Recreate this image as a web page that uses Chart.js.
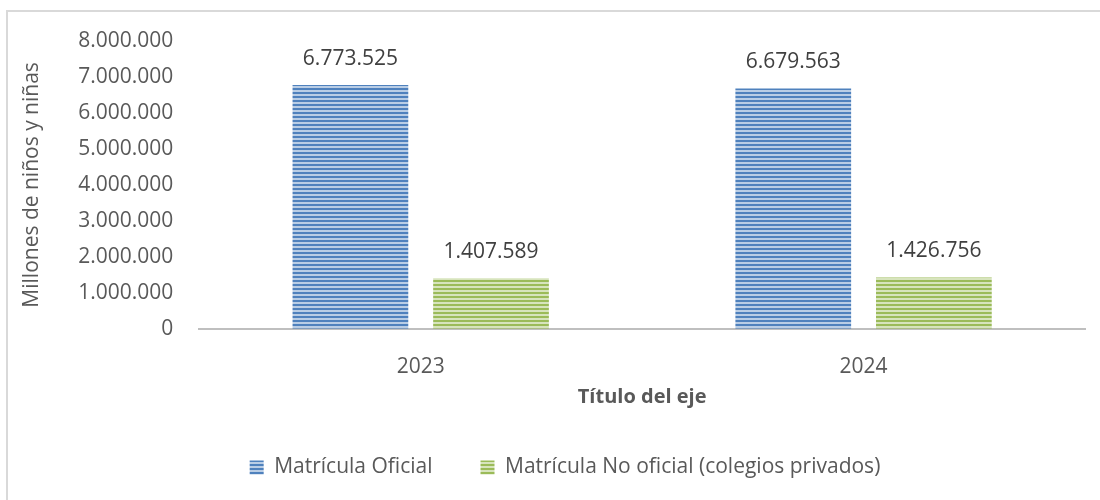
<!DOCTYPE html>
<html>
<head>
<meta charset="utf-8">
<script src="https://cdn.jsdelivr.net/npm/chart.js@4"></script>
<style>
  html, body { margin: 0; padding: 0; background: #fff; }
  #wrap { position: relative; width: 1100px; height: 500px; overflow: hidden; }
  #frame { position: absolute; left: 6px; top: 10px; width: 1200px; height: 600px;
           border-left: 2px solid #D9D9D9; border-top: 2px solid #D9D9D9; }
  #chart-container { position: absolute; left: 0; top: 0; width: 1100px; height: 500px; }
</style>
</head>
<body>
<div id="wrap">
  <div id="frame"></div>
  <div id="chart-container"><canvas id="myChart"></canvas></div>
</div>
<script>
const years = ['2023', '2024']
const oficial = [6773525, 6679563]
const noOficial = [1407589, 1426756]
const seriesNames = ['Matrícula Oficial', 'Matrícula No oficial (colegios privados)']

const font = '"Open Sans", "Liberation Sans", sans-serif'
const textColor = '#595959'

const formatDots = (v) => String(Math.round(v)).replace(/\B(?=(\d{3})+(?!\d))/g, '.')

const stripes = (dark, light) => {
  const c = document.createElement('canvas')
  c.width = 4
  c.height = 4
  const ctx = c.getContext('2d')
  ctx.fillStyle = light
  ctx.fillRect(0, 0, 4, 4)
  ctx.fillStyle = dark
  ctx.fillRect(0, 0, 4, 2)
  return ctx.createPattern(c, 'repeat')
}

const bluePattern = stripes('#4F81BD', '#B9CDE5')
const greenPattern = stripes('#9BBB59', '#D7E4BD')

const valueLabels = {
  id: 'valueLabels',
  afterDatasetsDraw (chart) {
    const ctx = chart.ctx
    ctx.save()
    ctx.font = '21px ' + font
    ctx.fillStyle = '#404040'
    ctx.textAlign = 'center'
    ctx.textBaseline = 'middle'
    chart.data.datasets.forEach((ds, i) => {
      chart.getDatasetMeta(i).data.forEach((bar, j) => {
        ctx.fillText(formatDots(ds.data[j]), bar.x, bar.y - 26)
      })
    })
    ctx.restore()
  }
}

// legend sits a little right of centre in the original
const legendShift = {
  id: 'legendShift',
  afterLayout (chart) {
    chart.legend.left += 13
    chart.legend.right += 13
  }
}

const myChart = new Chart(document.getElementById('myChart'), {
  type: 'bar',
  data: {
    labels: years,
    datasets: [{
      label: seriesNames[0],
      data: oficial,
      backgroundColor: bluePattern,
      borderWidth: 0
    }, {
      label: seriesNames[1],
      data: noOficial,
      backgroundColor: greenPattern,
      borderWidth: 0
    }]
  },
  options: {
    responsive: true,
    maintainAspectRatio: false,
    animation: false,
    categoryPercentage: 0.635,
    barPercentage: 0.823,
    layout: {
      padding: { left: 19, right: 15, top: 41, bottom: 12 }
    },
    plugins: {
      legend: {
        position: 'bottom',
        labels: {
          color: textColor,
          font: { family: font, size: 21 },
          boxWidth: 14,
          boxHeight: 14,
          padding: 48
        }
      },
      tooltip: { enabled: false }
    },
    scales: {
      x: {
        grid: { display: false },
        border: { color: '#BFBFBF', width: 2 },
        ticks: { color: textColor, font: { family: font, size: 21 }, padding: 18 },
        title: {
          display: true,
          text: 'Título del eje',
          color: textColor,
          font: { family: font, size: 20, weight: 'bold' },
          padding: { top: -13, bottom: 0 }
        }
      },
      y: {
        min: 0,
        max: 8000000,
        grid: { display: false },
        border: { display: false },
        ticks: {
          stepSize: 1000000,
          color: textColor,
          font: { family: font, size: 21 },
          padding: 18,
          callback: (v) => formatDots(v)
        },
        title: {
          display: true,
          text: 'Millones de niños y niñas',
          color: textColor,
          font: { family: font, size: 21 },
          padding: { top: 0, bottom: 16 }
        }
      }
    }
  },
  plugins: [valueLabels, legendShift]
})
</script>
</body>
</html>
